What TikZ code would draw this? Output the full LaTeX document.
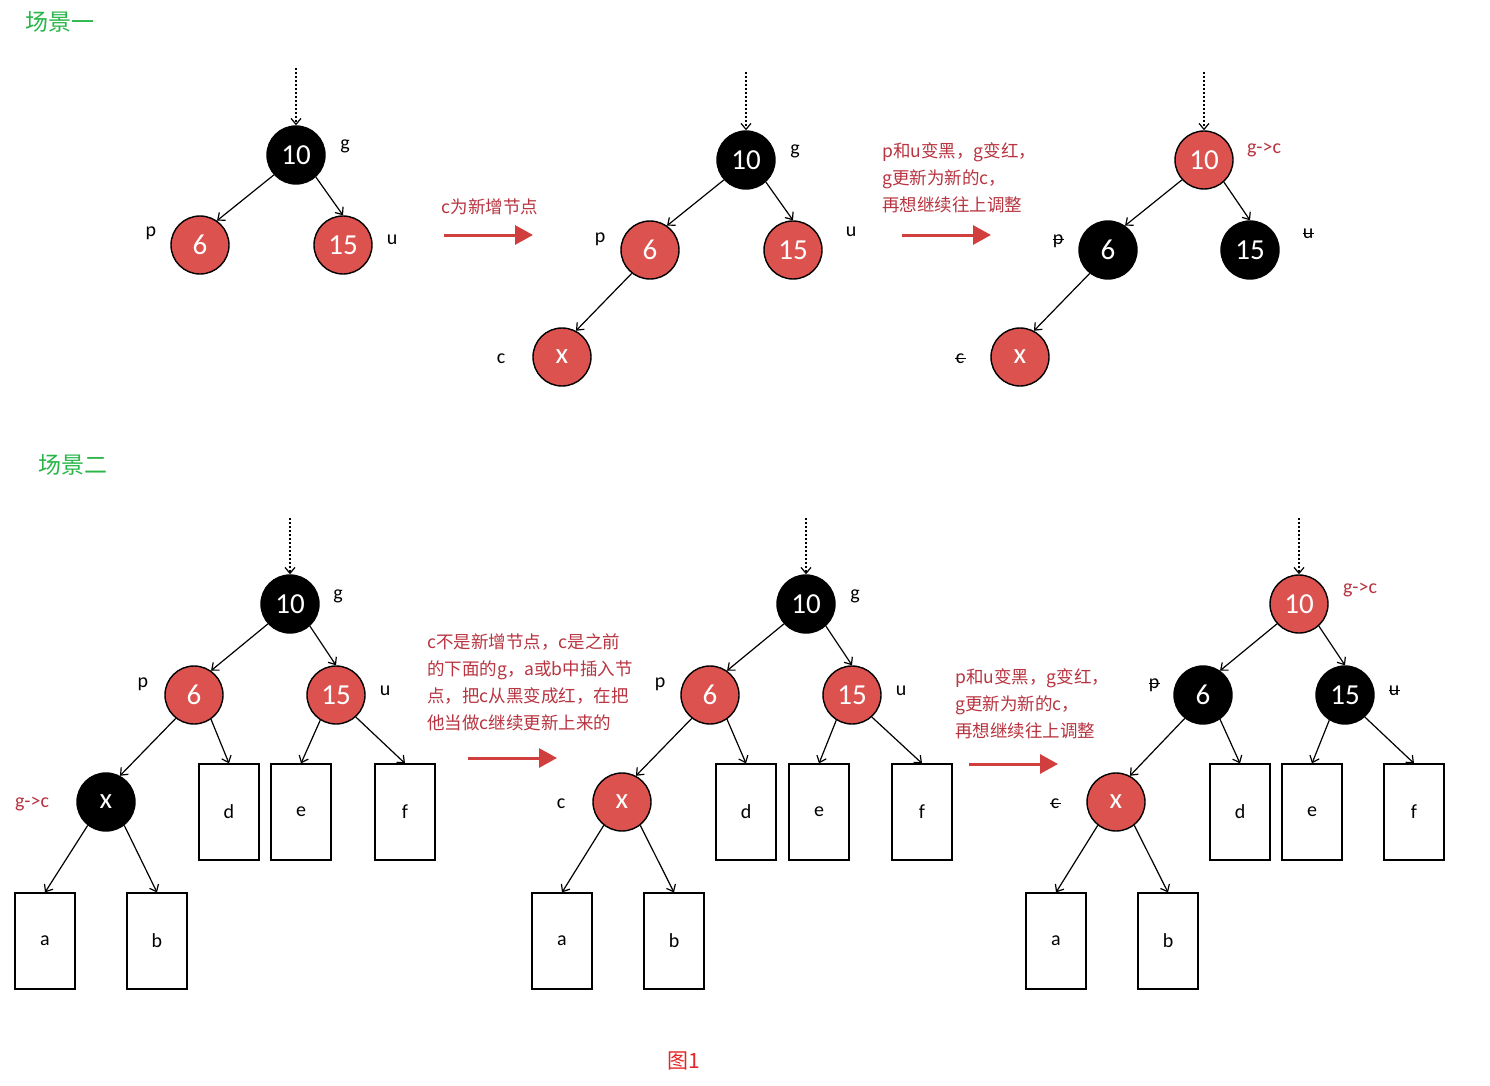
\documentclass[tikz,border=0pt]{standalone}
\usepackage{fontspec}
\setmainfont{Carlito}
\newfontfamily\cjk{Noto Sans CJK SC}
\usetikzlibrary{arrows.meta}
\definecolor{nred}{RGB}{219,82,78}
\definecolor{tred}{RGB}{184,52,64}
\definecolor{ared}{RGB}{208,62,62}
\definecolor{tgreen}{RGB}{40,182,72}
\definecolor{capred}{RGB}{228,40,40}
\newcommand\strk[1]{\ooalign{#1\cr\hidewidth\rule[0.24em]{0.55em}{0.07em}\hidewidth\cr}}
\tikzset{
 tnode/.style={circle,draw=black,line width=1.4pt,minimum size=58pt,inner sep=0pt,text=white,font=\fontsize{29}{29}\selectfont},
 bnode/.style={tnode,fill=black},
 rnode/.style={tnode,fill=nred},
 leaf/.style={draw=black,line width=1.2pt,minimum width=60pt,minimum height=96pt,inner sep=0pt,font=\fontsize{20}{20}\selectfont},
 lbl/.style={font=\fontsize{20}{20}\selectfont},
 rlbl/.style={lbl,text=tred},
 edge/.style={-{Straight Barb[length=6pt,width=10pt]},line width=1.2pt},
 dotarr/.style={edge,dash pattern=on 2pt off 2pt},
 bigarr/.style={-{Triangle[length=18pt,width=19pt]},draw=ared,line width=3pt},
 note/.style={text=tred,font=\cjk\fontsize{17.5}{27}\selectfont,align=left,anchor=west,inner sep=0pt},
 title/.style={text=tgreen,font=\cjk\fontsize{23}{23}\selectfont}
}
\begin{document}
\begin{tikzpicture}[x=1pt,y=-1pt]
\useasboundingbox[fill=white] (0,0) rectangle (1490,1086);
% titles
\node[title] (T1) at (60,22) {场景一};
\node[title] (T2) at (73,465) {场景二};
% ===== Scene 1, tree 1
\coordinate (A1t) at (296,68);
\node[bnode] (A1g) at (296,155) {10};
\node[rnode] (A1p) at (200,245) {6};
\node[rnode] (A1u) at (343,245) {15};
\draw[dotarr] (A1t) -- (A1g);
\draw[edge] (A1g.-138) -- (A1p.55);
\draw[edge] (A1g.-48) -- (A1u.north);
\node[lbl] (A1gl) at (345,146) {g};
\node[lbl] (A1pl) at (151,233) {p};
\node[lbl] (A1ul) at (392,240) {u};
% arrow 1
\node[note,anchor=center] (N1) at (490,207) {c为新增节点};
\coordinate (R1a) at (444,235); \coordinate (R1b) at (533,235);
\draw[bigarr] (R1a) -- (R1b);
% ===== Scene 1, tree 2
\coordinate (A2t) at (746,72);
\node[bnode] (A2g) at (746,160) {10};
\node[rnode] (A2p) at (650,250) {6};
\node[rnode] (A2u) at (793,250) {15};
\node[rnode] (A2x) at (562,357) {x};
\draw[dotarr] (A2t) -- (A2g);
\draw[edge] (A2g.-138) -- (A2p.55);
\draw[edge] (A2g.-48) -- (A2u.north);
\draw[edge] (A2p.-128) -- (A2x.62);
\node[lbl] (A2gl) at (795,151) {g};
\node[lbl] (A2pl) at (600,239) {p};
\node[lbl] (A2ul) at (851,232) {u};
\node[lbl] (A2cl) at (501,359) {c};
% arrow 2
\node[note] (N2) at (882,178) {p和u变黑，g变红，\\g更新为新的c，\\再想继续往上调整};
\coordinate (R2a) at (902,235); \coordinate (R2b) at (991,235);
\draw[bigarr] (R2a) -- (R2b);
% ===== Scene 1, tree 3
\coordinate (A3t) at (1204,72);
\node[rnode] (A3g) at (1204,160) {10};
\node[bnode] (A3p) at (1108,250) {6};
\node[bnode] (A3u) at (1250,250) {15};
\node[rnode] (A3x) at (1020,357) {x};
\draw[dotarr] (A3t) -- (A3g);
\draw[edge] (A3g.-138) -- (A3p.55);
\draw[edge] (A3g.-48) -- (A3u.north);
\draw[edge] (A3p.-128) -- (A3x.62);
\node[rlbl] (A3gl) at (1264,150) {g->c};
\node[lbl] (A3pl) at (1058,240) {\strk{p}};
\node[lbl] (A3ul) at (1308,234) {\strk{u}};
\node[lbl] (A3cl) at (960,359) {\strk{c}};
% ===== Scene 2, tree 1
\coordinate (B1t) at (290,518);
\node[bnode] (B1g) at (290,604) {10};
\node[rnode] (B1p) at (194,695) {6};
\node[rnode] (B1u) at (336,695) {15};
\node[bnode] (B1x) at (106,802) {x};
\node[leaf] (B1d) at (229,812) {d};
\node[leaf] (B1e) at (301,812) {e};
\node[leaf] (B1f) at (405,812) {f};
\node[leaf] (B1a) at (45,941) {a};
\node[leaf] (B1b) at (157,941) {b};
\draw[dotarr] (B1t) -- (B1g);
\draw[edge] (B1g.-138) -- (B1p.55);
\draw[edge] (B1g.-48) -- (B1u.north);
\draw[edge] (B1p.-128) -- (B1x.62);
\draw[edge] (B1p.-55) -- (B1d.north);
\draw[edge] (B1u.-122) -- (B1e.north);
\draw[edge] (B1u.-48) -- (B1f.north);
\draw[edge] (B1x.-128) -- (B1a.north);
\draw[edge] (B1x.-52) -- (B1b.north);
\node[lbl] (B1gl) at (338,596) {g};
\node[lbl] (B1pl) at (143,684) {p};
\node[lbl] (B1ul) at (385,691) {u};
\node[rlbl] (B1cl) at (32,804) {g->c};
% arrow 3
\node[note] (N3) at (427,682) {c不是新增节点，c是之前\\的下面的g，a或b中插入节\\点，把c从黑变成红，在把\\他当做c继续更新上来的};
\coordinate (R3a) at (468,758); \coordinate (R3b) at (557,758);
\draw[bigarr] (R3a) -- (R3b);
% ===== Scene 2, tree 2
\coordinate (B2t) at (806,518);
\node[bnode] (B2g) at (806,604) {10};
\node[rnode] (B2p) at (710,695) {6};
\node[rnode] (B2u) at (852,695) {15};
\node[rnode] (B2x) at (622,802) {x};
\node[leaf] (B2d) at (746,812) {d};
\node[leaf] (B2e) at (819,812) {e};
\node[leaf] (B2f) at (922,812) {f};
\node[leaf] (B2a) at (562,941) {a};
\node[leaf] (B2b) at (674,941) {b};
\draw[dotarr] (B2t) -- (B2g);
\draw[edge] (B2g.-138) -- (B2p.55);
\draw[edge] (B2g.-48) -- (B2u.north);
\draw[edge] (B2p.-128) -- (B2x.62);
\draw[edge] (B2p.-55) -- (B2d.north);
\draw[edge] (B2u.-122) -- (B2e.north);
\draw[edge] (B2u.-48) -- (B2f.north);
\draw[edge] (B2x.-128) -- (B2a.north);
\draw[edge] (B2x.-52) -- (B2b.north);
\node[lbl] (B2gl) at (855,596) {g};
\node[lbl] (B2pl) at (660,684) {p};
\node[lbl] (B2ul) at (901,691) {u};
\node[lbl] (B2cl) at (561,804) {c};
% arrow 4
\node[note] (N4) at (955,704) {p和u变黑，g变红，\\g更新为新的c，\\再想继续往上调整};
\coordinate (R4a) at (969,764); \coordinate (R4b) at (1058,764);
\draw[bigarr] (R4a) -- (R4b);
% ===== Scene 2, tree 3
\coordinate (B3t) at (1299,518);
\node[rnode] (B3g) at (1299,604) {10};
\node[bnode] (B3p) at (1203,695) {6};
\node[bnode] (B3u) at (1345,695) {15};
\node[rnode] (B3x) at (1116,802) {x};
\node[leaf] (B3d) at (1240,812) {d};
\node[leaf] (B3e) at (1312,812) {e};
\node[leaf] (B3f) at (1414,812) {f};
\node[leaf] (B3a) at (1056,941) {a};
\node[leaf] (B3b) at (1168,941) {b};
\draw[dotarr] (B3t) -- (B3g);
\draw[edge] (B3g.-138) -- (B3p.55);
\draw[edge] (B3g.-48) -- (B3u.north);
\draw[edge] (B3p.-128) -- (B3x.62);
\draw[edge] (B3p.-55) -- (B3d.north);
\draw[edge] (B3u.-122) -- (B3e.north);
\draw[edge] (B3u.-48) -- (B3f.north);
\draw[edge] (B3x.-128) -- (B3a.north);
\draw[edge] (B3x.-52) -- (B3b.north);
\node[rlbl] (B3gl) at (1360,590) {g->c};
\node[lbl] (B3pl) at (1154,684) {\strk{p}};
\node[lbl] (B3ul) at (1394,691) {\strk{u}};
\node[lbl] (B3cl) at (1055,804) {\strk{c}};
% caption
\node[text=capred,font=\cjk\fontsize{21}{21}\selectfont] (CAP) at (684,1061) {图1};
\end{tikzpicture}
\end{document}
